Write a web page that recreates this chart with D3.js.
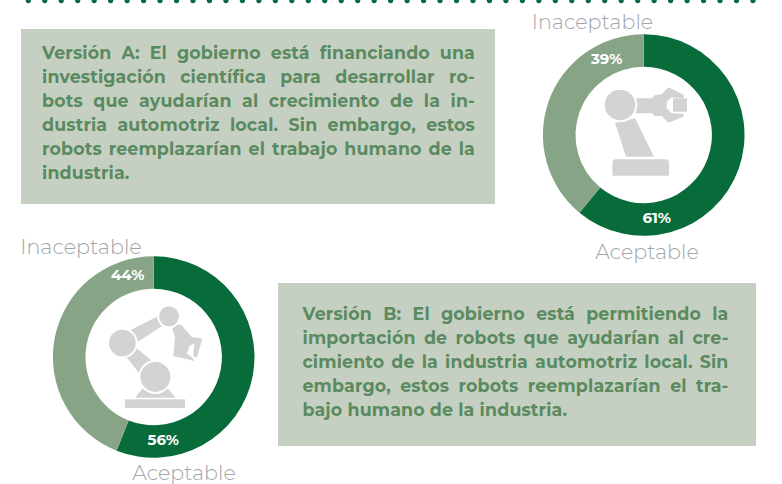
<!DOCTYPE html>
<html><head><meta charset="utf-8">
<script src="https://cdn.jsdelivr.net/npm/d3@7"></script>
<style>html,body{margin:0;padding:0;background:#fff}svg{display:block}</style>
</head><body><div id="c"></div>
<script>
const categories = ["Aceptable", "Inaceptable"];
const valuesA = [61, 39];
const valuesB = [56, 44];
const linesA = ["Versión A: El gobierno está financiando una","investigación científica para desarrollar ro-","bots que ayudarían al crecimiento de la in-","dustria automotriz local. Sin embargo, estos","robots reemplazarían el trabajo humano de la","industria."];
const linesB = ["Versión B: El gobierno está permitiendo la","importación de robots que ayudarían al cre-","cimiento de la industria automotriz local. Sin","embargo, estos robots reemplazarían el tra-","bajo humano de la industria."];

const W = 782, H = 484;
const FONT = "Montserrat, Inter, sans-serif";
const DARK = "#076c3a", LIGHT = "#87a586", BOX = "#c6d0c2", TXT = "#5a8a60", GREY = "#a3a5a8", ICON = "#d1d3d4";
const svg = d3.select("#c").append("svg").attr("width", W).attr("height", H);
const color = d3.scaleOrdinal().domain(categories).range([DARK, LIGHT]);

// dotted rule along the top edge
svg.append("g").selectAll("circle").data(d3.range(28.3, 760, 16.47)).join("circle")
  .attr("cx", d => d).attr("cy", 0.6).attr("r", 2.6).attr("fill", DARK);

function textBox(x, y, w, h, lines, tx, tw, base) {
  svg.append("rect").attr("x", x).attr("y", y).attr("width", w).attr("height", h).attr("fill", BOX);
  lines.forEach((line, i) => {
    const t = svg.append("text").attr("x", tx).attr("y", base + i * 24)
      .attr("font-family", FONT).attr("font-weight", 700)
      .attr("font-size", 17.4).attr("letter-spacing", 0.15).attr("fill", TXT).text(line);
    if (i < lines.length - 1) {
      const gaps = line.split(" ").length - 1;
      const extra = (tw - t.node().getComputedTextLength()) / gaps;
      t.attr("word-spacing", extra);
    }
  });
}
textBox(21, 29, 474, 175, linesA, 42, 433, 59);
textBox(278, 283, 478, 163, linesB, 302.5, 426, 320);

function donut(cx, cy, values, labels, top, bottom, icon) {
  const g = svg.append("g").attr("transform", `translate(${cx},${cy})`);
  const pie = d3.pie().sort(null).value(d => d.v);
  const arc = d3.arc().innerRadius(68.2).outerRadius(100.8);
  const data = pie(values.map((v, i) => ({ v, c: categories[i] })));
  g.selectAll("path").data(data).join("path").attr("d", arc).attr("fill", d => color(d.data.c));
  g.selectAll("text.pct").data(data).join("text").attr("class", "pct")
    .attr("x", (d, i) => labels[i][0]).attr("y", (d, i) => labels[i][1])
    .attr("text-anchor", "middle").attr("font-family", FONT).attr("font-weight", 700)
    .attr("font-size", 15).attr("fill", "#fff").text(d => d.value + "%");
  const lab = (p, s) => svg.append("text").attr("x", p[0]).attr("y", p[1]).attr("text-anchor", "middle")
    .attr("font-family", FONT).attr("font-weight", 300).attr("font-size", 20.7)
    .attr("fill", GREY).text(s);
  lab(top, categories[1]); lab(bottom, categories[0]);
  const ic = g.append("g").attr("transform", "scale(0.3333)");
  icon(ic);
}

function robotA(g) {
  // drawn in a coordinate system three times the pixel size, centred on the ring
  g.append("polygon").attr("fill", ICON).attr("points", "-86,-37 -26,-50 31,65 -53,65");
  g.append("path").attr("fill", ICON).attr("d", "M-94,84a11,11 0 0 1 11,-11H65a11,11 0 0 1 11,11V122H-94Z");
  g.append("polygon").attr("fill", ICON).attr("points", "-26,-110 24,-110 34,-120 54,-122 74,-143 121,-120 119,-110 84,-113 69,-100 69,-80 84,-65 121,-63 119,-55 74,-37 54,-57 34,-57 24,-65 -26,-65");
  g.append("rect").attr("fill", ICON).attr("x", 88).attr("y", -110).attr("width", 42).attr("height", 40);
  g.append("circle").attr("fill", ICON).attr("stroke", "#fff").attr("stroke-width", 6).attr("cx", -71).attr("cy", -90).attr("r", 49);
}
function robotB(g) {
  g.append("rect").attr("fill", ICON).attr("x", -86).attr("y", 127).attr("width", 180).attr("height", 26);
  g.append("polygon").attr("fill", ICON).attr("points", "-56,122 -26,85 34,85 66,122");
  g.append("polygon").attr("fill", ICON).attr("points", "-71,-80 14,-123 29,-95 -53,-42");
  g.append("polygon").attr("fill", ICON).attr("points", "-84,-2 -56,-30 -1,15 -41,52");
  g.append("polygon").attr("fill", ICON).attr("points", "69,-100 84,-95 114,-60 146,-55 129,2 119,-2 122,-40 109,-35 99,-10 114,0 122,12 59,-3 64,-60 56,-85");
  g.append("circle").attr("fill", ICON).attr("stroke", "#fff").attr("stroke-width", 6).attr("cx", -94).attr("cy", -42).attr("r", 43);
  g.append("circle").attr("fill", ICON).attr("stroke", "#fff").attr("stroke-width", 6).attr("cx", 46).attr("cy", -122).attr("r", 33);
  g.append("circle").attr("fill", ICON).attr("stroke", "#fff").attr("stroke-width", 6).attr("cx", 5).attr("cy", 60).attr("r", 48);
}
donut(643.7, 135, valuesA, [[13, 88], [-37, -71]], [592.5, 29], [647, 259], robotA);
donut(153.7, 357, valuesB, [[9.5, 88], [-26, -77]], [81, 254], [184, 479.6], robotB);
</script></body></html>
